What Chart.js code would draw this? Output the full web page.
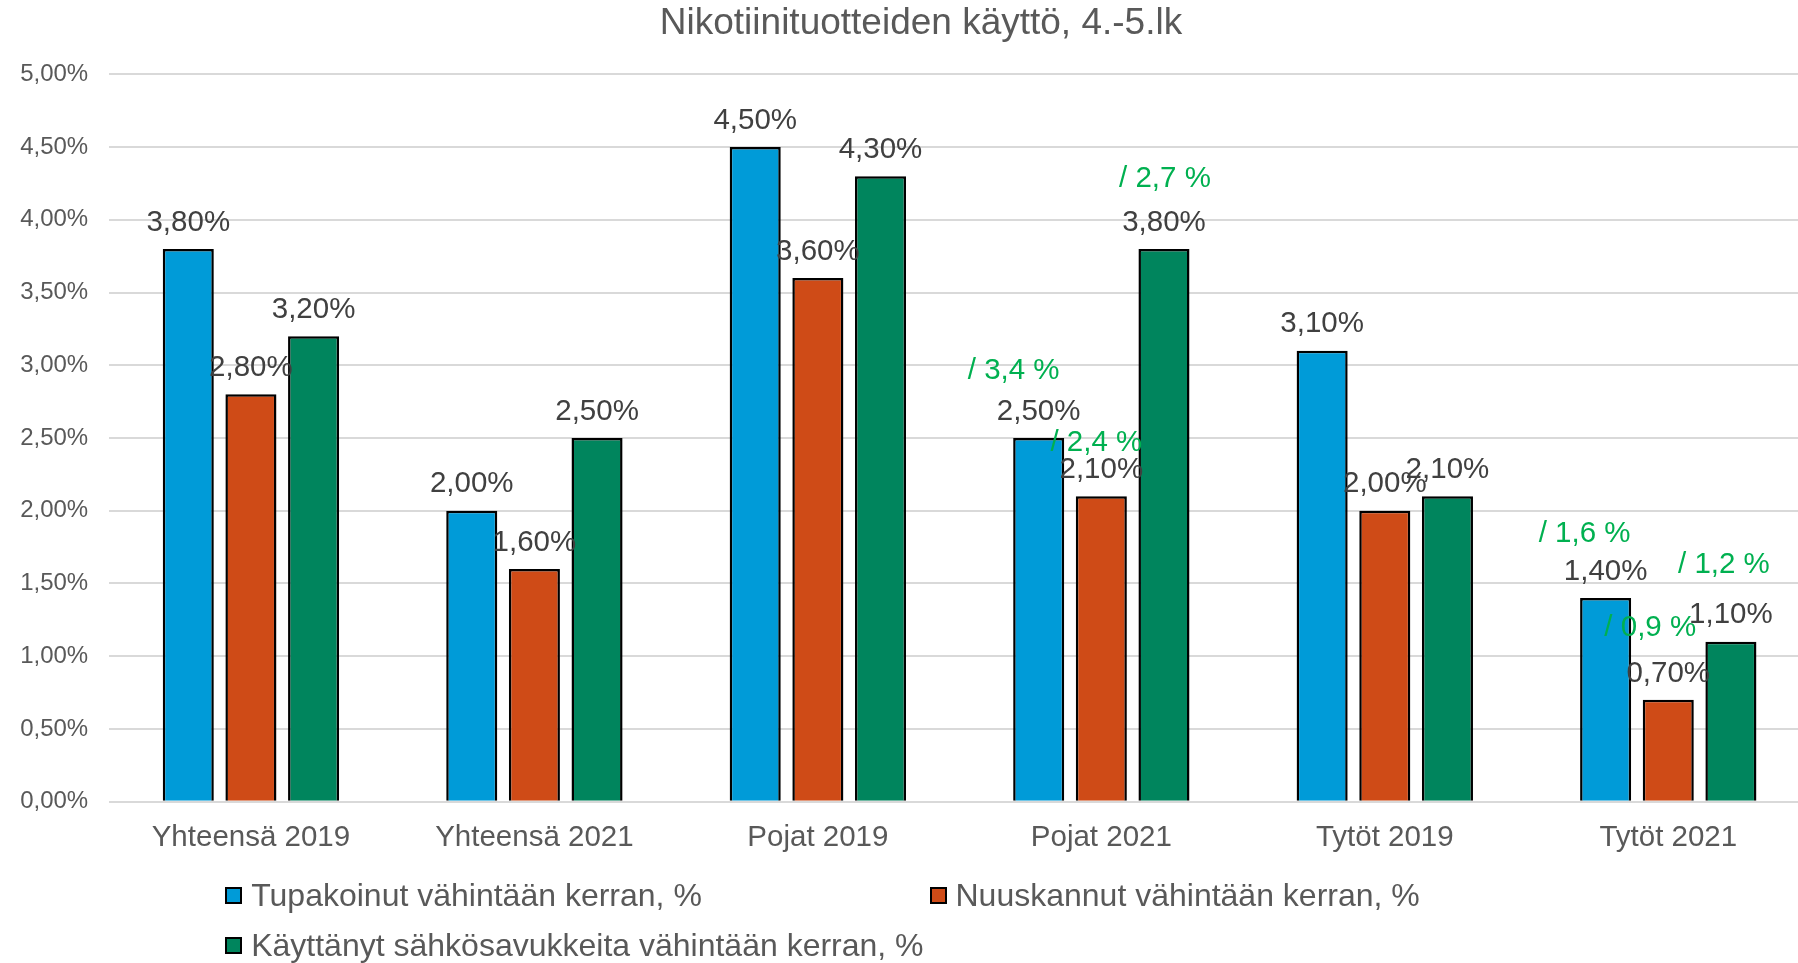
<!DOCTYPE html>
<html>
<head>
<meta charset="utf-8">
<script src="https://cdn.jsdelivr.net/npm/chart.js@4.4.1/dist/chart.umd.min.js"></script>
<style>
	html, body { margin: 0; padding: 0; background: #fff; overflow: hidden; }
	#wrap { position: relative; width: 1798px; height: 963px; overflow: hidden; }
	#chart { position: absolute; left: 0; top: 0; }
	.leg { position: absolute; display: flex; align-items: center; font: 32px 'Liberation Sans', Arial, sans-serif; color: #595959; line-height: 1; white-space: nowrap; }
	.leg i { display: inline-block; width: 17px; height: 17px; box-sizing: border-box; border: 2px solid #000; margin-right: 9px; }
</style>
</head>
<body>
<div id="wrap">
	<canvas id="chart" width="1810" height="963"></canvas>
</div>
<script>
const categories = ['Yhteensä 2019', 'Yhteensä 2021', 'Pojat 2019', 'Pojat 2021', 'Tytöt 2019', 'Tytöt 2021'];

const tupakoinut = [3.8, 2.0, 4.5, 2.5, 3.1, 1.4];
const nuuskannut = [2.8, 1.6, 3.6, 2.1, 2.0, 0.7];
const sahkosavukkeet = [3.2, 2.5, 4.3, 3.8, 2.1, 1.1];

// green comparison figures written above some labels
const noteTupakoinut = [null, null, null, '/ 3,4 %', null, '/ 1,6 %'];
const noteNuuskannut = [null, null, null, '/ 2,4 %', null, '/ 0,9 %'];
const noteSahko = [null, null, null, '/ 2,7 %', null, '/ 1,2 %'];

const seriesLabels = [
	'Tupakoinut vähintään kerran, %',
	'Nuuskannut vähintään kerran, %',
	'Käyttänyt sähkösavukkeita vähintään kerran, %',
];
const colors = ['#009BD8', '#CF4B17', '#00855D'];

// offsets of the green notes from the value label, px (dataset -> category -> [dx, dy])
const noteOffsets = {
	0: { 3: [-25, -41], 5: [-21, -38] },
	1: { 3: [-5, -27], 5: [-18, -46] },
	2: { 3: [1, -44], 5: [-7, -50] },
};

const FONT = "'Liberation Sans', Arial, sans-serif";
const fmt = (v) => v.toFixed(2).replace('.', ',') + '%';

const labelsPlugin = {
	id: 'labels',
	afterDatasetsDraw(chart) {
		const ctx = chart.ctx;
		const notes = [noteTupakoinut, noteNuuskannut, noteSahko];
		ctx.save();
		ctx.font = '29.5px ' + FONT;
		ctx.textAlign = 'center';
		ctx.textBaseline = 'middle';
		chart.data.datasets.forEach((ds, di) => {
			chart.getDatasetMeta(di).data.forEach((bar, i) => {
				const ly = bar.y - 26.5;
				ctx.fillStyle = '#404040';
				ctx.fillText(fmt(ds.data[i]), bar.x, ly);
				const note = notes[di][i];
				if (note) {
					const off = noteOffsets[di][i] || [0, -40];
					ctx.fillStyle = '#00B050';
					ctx.fillText(note, bar.x + off[0], ly + off[1]);
				}
			});
		});
		ctx.restore();
	},
	afterDraw(chart) {
		const ctx = chart.ctx;
		ctx.save();
		ctx.font = '37px ' + FONT;
		ctx.fillStyle = '#595959';
		ctx.textAlign = 'center';
		ctx.textBaseline = 'alphabetic';
		ctx.fillText('Nikotiinituotteiden käyttö, 4.-5.lk', 921, 34);
		ctx.restore();
	},
};

new Chart(document.getElementById('chart'), {
	type: 'bar',
	data: {
		labels: categories,
		datasets: [tupakoinut, nuuskannut, sahkosavukkeet].map((d, i) => ({
			label: seriesLabels[i],
			data: d,
			backgroundColor: colors[i],
			borderColor: '#000',
			borderWidth: 2.5,
			categoryPercentage: 0.663,
			barPercentage: 0.815,
		})),
	},
	options: {
		responsive: false,
		animation: false,
		layout: { padding: { top: 74.3, bottom: 101.3, left: 0, right: 0 } },
		plugins: {
			legend: { display: false },
			title: { display: false },
			tooltip: { enabled: false },
		},
		scales: {
			x: {
				grid: { display: false },
				border: { display: false },
				ticks: { color: '#595959', font: { family: FONT, size: 29.5 }, padding: 10, maxRotation: 0 },
				afterFit: (s) => { s.height = 60; },
			},
			y: {
				min: 0,
				max: 5,
				border: { display: false },
				grid: { color: '#D9D9D9', lineWidth: 2, drawTicks: false },
				ticks: { stepSize: 0.5, color: '#595959', font: { family: FONT, size: 24 }, padding: 21, callback: (v) => fmt(v) },
				afterFit: (s) => { s.width = 109.2; },
			},
		},
	},
	plugins: [labelsPlugin],
});

// legend as html, laid out like the original
const legendPos = [[225.2, 879.8], [929.5, 879.8], [225.2, 929.8]];
const wrap = document.getElementById('wrap');
seriesLabels.forEach((txt, i) => {
	const el = document.createElement('div');
	el.className = 'leg';
	el.style.left = legendPos[i][0] + 'px';
	el.style.top = legendPos[i][1] + 'px';
	el.style.height = '31px';
	const box = document.createElement('i');
	box.style.background = colors[i];
	el.appendChild(box);
	el.appendChild(document.createTextNode(txt));
	wrap.appendChild(el);
});
</script>
</body>
</html>
